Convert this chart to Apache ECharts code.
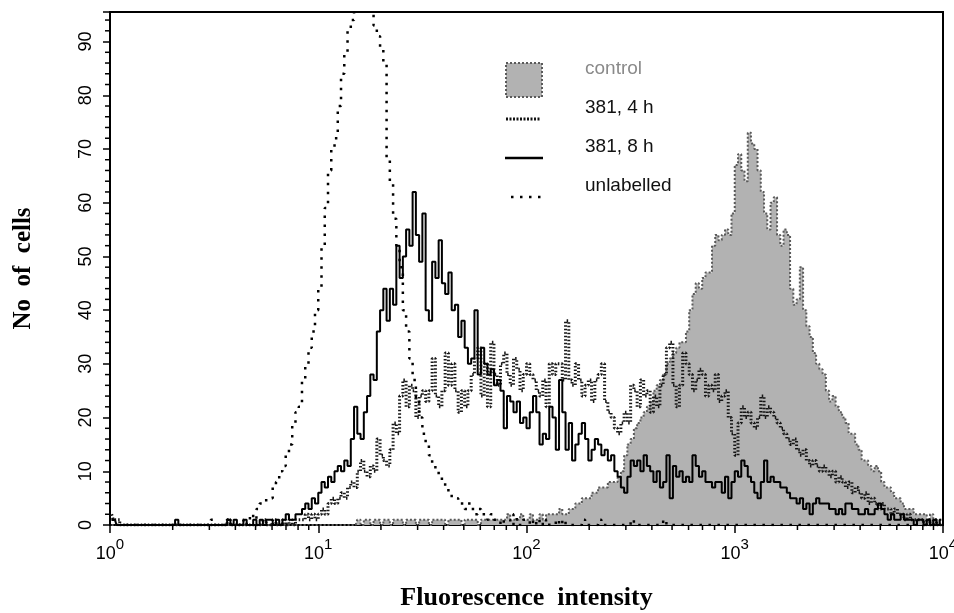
<!DOCTYPE html>
<html>
<head>
<meta charset="utf-8">
<title>Fluorescence histogram</title>
<script src="https://cdn.jsdelivr.net/npm/echarts@6/dist/echarts.min.js"></script>
<style>
  html, body { margin: 0; padding: 0; background: #fff; }
  #chart { width: 954px; height: 613px; }
</style>
</head>
<body>
<div id="chart"></div>
<script>
// 256 channels over 4 decades (64 channels per decade)
const channelsPerDecade = 64

const control = [
  0,0,0,0,0,0,0,0,0,0,0,0,0,0,0,0,
  0,0,0,0,0,0,0,0,0,0,0,0,0,0,0,0,
  0,0,0,0,0,0,0,0,0,0,0,0,0,0,0,0,
  0,0,0,0,0,0,0,0,0,0,0,0,0,0,0,0,
  0,0,0,0,0,0,0,0,0,0,0,0,1,0,1,1,
  0,1,1,0,1,1,0,1,1,1,0,1,1,1,0,1,
  1,1,0,1,1,1,1,0,1,1,1,1,0,1,1,1,
  1,0,1,1,1,1,1,1,1,1,2,1,1,1,2,1,
  1,2,1,1,2,1,2,2,2,2,3,2,2,3,3,4,
  4,5,5,5,6,6,7,7,7,8,8,8,9,10,13,15,
  16,18,19,20,21,22,23,25,26,27,28,30,31,32,33,34,
  34,36,40,43,45,44,46,47,47,52,54,53,54,55,54,58,
  67,69,66,64,73,71,70,66,62,58,55,60,61,54,52,55,
  54,44,41,42,48,40,37,35,32,30,29,28,25,23,24,22,
  21,20,19,17,17,15,14,12,12,11,10,11,10,8,7,7,
  6,5,5,4,3,3,3,2,2,2,2,1,2,1,1,1
]

const h4 = [
  2,1,1,0,0,0,0,0,0,0,0,0,0,0,0,0,
  0,0,0,0,0,0,0,0,0,0,0,0,0,0,0,0,
  0,0,0,0,1,0,0,0,0,0,0,0,0,0,0,1,
  0,0,1,0,0,1,0,1,0,1,1,1,2,1,2,1,
  2,3,2,4,5,4,5,6,5,7,8,7,10,12,10,9,
  11,10,16,13,12,11,14,19,17,24,27,22,26,25,20,24,
  25,23,25,31,24,22,25,32,26,30,25,21,25,22,25,28,
  31,33,24,30,22,34,28,26,30,32,28,26,31,29,25,28,
  30,28,27,25,24,27,22,30,28,30,30,27,38,27,26,30,
  27,24,26,27,23,27,28,30,23,21,20,18,17,19,21,19,
  26,25,22,27,24,25,21,24,22,26,28,33,34,26,22,26,
  32,30,28,25,27,29,28,24,26,25,28,23,24,25,20,17,
  13,19,22,20,21,19,18,20,24,20,22,21,20,19,18,17,
  16,15,16,14,13,14,12,11,12,11,10,11,10,9,10,8,
  9,8,7,8,6,7,6,5,6,4,5,4,3,4,3,3,
  2,3,2,2,1,2,1,1,1,1,0,1,0,1,0,0
]

const h8 = [
  1,1,0,0,0,0,0,0,0,0,0,0,0,0,0,0,
  0,0,0,0,1,0,0,0,0,0,0,0,0,0,0,0,
  0,0,0,0,1,0,1,0,0,1,0,0,1,0,1,0,
  1,1,0,1,0,1,2,1,1,2,2,3,4,3,5,4,
  6,8,7,9,8,10,11,10,12,11,16,22,17,16,21,24,
  28,27,36,40,44,38,44,41,52,46,50,55,52,62,54,49,
  58,40,38,49,46,53,45,43,47,40,41,35,38,33,30,31,
  40,28,33,30,28,29,26,27,25,18,24,23,21,23,19,20,
  18,21,24,21,15,17,16,22,20,14,27,21,14,19,12,15,
  17,19,16,12,14,16,15,13,14,12,13,10,9,7,6,9,
  12,11,12,10,13,11,10,8,10,7,8,13,5,11,9,10,
  8,9,8,13,11,9,10,8,8,7,8,8,6,9,5,8,
  10,9,12,11,9,8,6,5,8,12,8,9,8,8,7,7,
  6,5,5,4,5,3,4,2,4,5,4,4,4,3,3,2,
  3,2,4,4,3,3,2,2,3,2,2,3,4,3,2,1,
  2,1,1,2,1,1,1,0,1,1,0,1,0,1,0,1
]

const unlabelled = [
  1,1,0,0,0,0,0,0,0,0,0,0,0,0,0,0,
  0,0,0,0,0,0,0,0,0,0,0,0,0,0,0,1,
  0,0,0,0,1,0,0,0,1,0,1,2,1,3,4,4,
  5,5,7,8,10,11,13,15,19,21,22,27,30,33,36,40,
  44,52,59,66,70,72,78,84,88,92,94,97,98,97,98,96,
  97,93,91,89,86,68,64,57,52,48,40,36,31,27,23,20,
  17,15,13,11,10,9,8,7,6,5,5,4,4,3,4,3,
  2,3,2,2,1,2,1,1,0,1,1,0,2,1,0,1,
  1,0,1,0,1,0,1,0,0,1,0,1,0,0,0,0,
  0,1,0,0,0,0,1,0,0,0,0,0,0,0,0,0,
  1,0,0,0,0,0,0,0,0,0,1,0,0,0,0,0,
  0,0,0,0,0,0,0,0,0,0,0,0,0,0,0,0,
  0,0,0,0,0,0,0,0,0,0,0,0,0,0,0,0,
  0,0,0,0,0,0,0,0,0,0,0,0,0,0,0,0,
  0,0,0,0,0,0,0,0,0,0,0,0,0,0,0,0,
  0,0,0,0,0,0,0,0,0,0,0,0,0,0,0,0
]

const xMinorTicks = [
  2, 3, 4, 5, 6, 7, 8, 9,
  20, 30, 40, 50, 60, 70, 80, 90,
  200, 300, 400, 500, 600, 700, 800, 900,
  2000, 3000, 4000, 5000, 6000, 7000, 8000, 9000
]
const yMinorTicks = [2, 4, 6, 8, 12, 14, 16, 18, 22, 24, 26, 28, 32, 34, 36, 38, 42, 44, 46, 48,
  52, 54, 56, 58, 62, 64, 66, 68, 72, 74, 76, 78, 82, 84, 86, 88, 92, 94]

const legendNames = ['control', '381, 4 h', '381, 8 h', 'unlabelled']

// channel centre on the fluorescence scale
function toPairs(arr) {
  return arr.map((v, i) => [Math.pow(10, (i + 0.5) / channelsPerDecade), v])
}

const chart = echarts.init(document.getElementById('chart'), null, { renderer: 'canvas' })

const sansFont = '"Liberation Sans", Arial, Helvetica, sans-serif'
const serifFont = '"Liberation Serif", "Times New Roman", serif'

function legendRow(y, icon, text, color) {
  return [icon, {
    type: 'text',
    left: 585,
    top: y - 11,
    style: { text: text, fill: color, font: '19px ' + sansFont }
  }]
}

const legendGraphics = [].concat(
  legendRow(70, {
    type: 'rect',
    shape: { x: 506, y: 63, width: 36, height: 34 },
    style: { fill: '#b2b2b2', stroke: '#5a5a5a', lineWidth: 2, lineDash: [2, 2] }
  }, legendNames[0], '#8a8a8a'),
  legendRow(109, {
    type: 'line',
    shape: { x1: 506, y1: 119, x2: 541, y2: 119 },
    style: { stroke: '#111', lineWidth: 3, lineDash: [2, 1.5] }
  }, legendNames[1], '#111'),
  legendRow(148, {
    type: 'line',
    shape: { x1: 505, y1: 158, x2: 543, y2: 158 },
    style: { stroke: '#000', lineWidth: 2.5 }
  }, legendNames[2], '#111'),
  legendRow(187, {
    type: 'line',
    shape: { x1: 511, y1: 197, x2: 542, y2: 197 },
    style: { stroke: '#000', lineWidth: 2.5, lineDash: [2.5, 6.5] }
  }, legendNames[3], '#111')
)

chart.setOption({
  animation: false,
  backgroundColor: '#fff',
  grid: {
    left: 110,
    right: 11,
    top: 12,
    bottom: 88,
    outerBoundsMode: 'none',
    containLabel: false,
    show: true,
    borderColor: '#000',
    borderWidth: 2
  },
  xAxis: {
    type: 'log',
    logBase: 10,
    min: 1,
    max: 10000,
    name: 'Fluorescence  intensity',
    nameLocation: 'middle',
    nameGap: 60,
    nameTextStyle: { fontFamily: serifFont, fontWeight: 'bold', fontSize: 26, color: '#000' },
    axisLine: { lineStyle: { color: '#000', width: 2 } },
    axisTick: { show: true, inside: false, length: 8, lineStyle: { color: '#000', width: 1.5 } },
    splitLine: { show: false },
    axisLabel: {
      margin: 12,
      formatter: function (v) {
        return '{b|10}{e|' + Math.round(Math.log10(v)) + '}'
      },
      rich: {
        b: { fontFamily: sansFont, fontSize: 18, color: '#000', lineHeight: 26, verticalAlign: 'bottom' },
        e: { fontFamily: sansFont, fontSize: 15, color: '#000', lineHeight: 26, verticalAlign: 'top' }
      }
    }
  },
  yAxis: {
    type: 'value',
    min: 0,
    max: 95.5,
    interval: 10,
    name: 'No  of  cells',
    nameLocation: 'middle',
    nameRotate: 90,
    nameGap: 74,
    nameTextStyle: { fontFamily: serifFont, fontWeight: 'bold', fontSize: 25, color: '#000' },
    axisLine: { show: true, lineStyle: { color: '#000', width: 2 } },
    axisTick: { show: true, inside: false, length: 7, lineStyle: { color: '#000', width: 1.5 } },
    splitLine: { show: false },
    axisLabel: {
      rotate: 90,
      margin: 15,
      fontFamily: sansFont,
      fontSize: 18,
      color: '#000',
      formatter: function (v) { return v % 10 === 0 ? String(v) : '' }
    }
  },
  graphic: legendGraphics,
  series: [
    {
      name: legendNames[0],
      type: 'line',
      step: 'middle',
      symbol: 'none',
      z: 1,
      data: toPairs(control),
      lineStyle: { color: '#5a5a5a', width: 2, type: [2, 2] },
      areaStyle: { color: '#b2b2b2', opacity: 1 }
    },
    {
      name: legendNames[1],
      type: 'line',
      step: 'middle',
      symbol: 'none',
      z: 2,
      data: toPairs(h4),
      lineStyle: { color: '#161616', width: 3, type: [1.5, 2] }
    },
    {
      name: legendNames[2],
      type: 'line',
      step: 'middle',
      symbol: 'none',
      z: 3,
      data: toPairs(h8),
      lineStyle: { color: '#000', width: 2 }
    },
    {
      name: legendNames[3],
      type: 'line',
      step: 'middle',
      symbol: 'none',
      z: 4,
      data: toPairs(unlabelled),
      lineStyle: { color: '#000', width: 2.5, type: [2.5, 6.5] }
    },
    {
      // minor ticks of the log axis
      type: 'custom',
      silent: true,
      clip: false,
      z: 5,
      data: xMinorTicks.map(v => [v, 0]),
      renderItem: function (params, api) {
        const p = api.coord([api.value(0), 0])
        return {
          type: 'line',
          shape: { x1: p[0], y1: p[1], x2: p[0], y2: p[1] + 5 },
          style: { stroke: '#000', lineWidth: 1.5 }
        }
      }
    },
    {
      type: 'custom',
      silent: true,
      clip: false,
      z: 5,
      data: yMinorTicks.map(v => [1, v]),
      renderItem: function (params, api) {
        const p = api.coord([1, api.value(1)])
        return {
          type: 'line',
          shape: { x1: p[0] - 5, y1: p[1], x2: p[0], y2: p[1] },
          style: { stroke: '#000', lineWidth: 1.5 }
        }
      }
    }
  ]
})
</script>
</body>
</html>
